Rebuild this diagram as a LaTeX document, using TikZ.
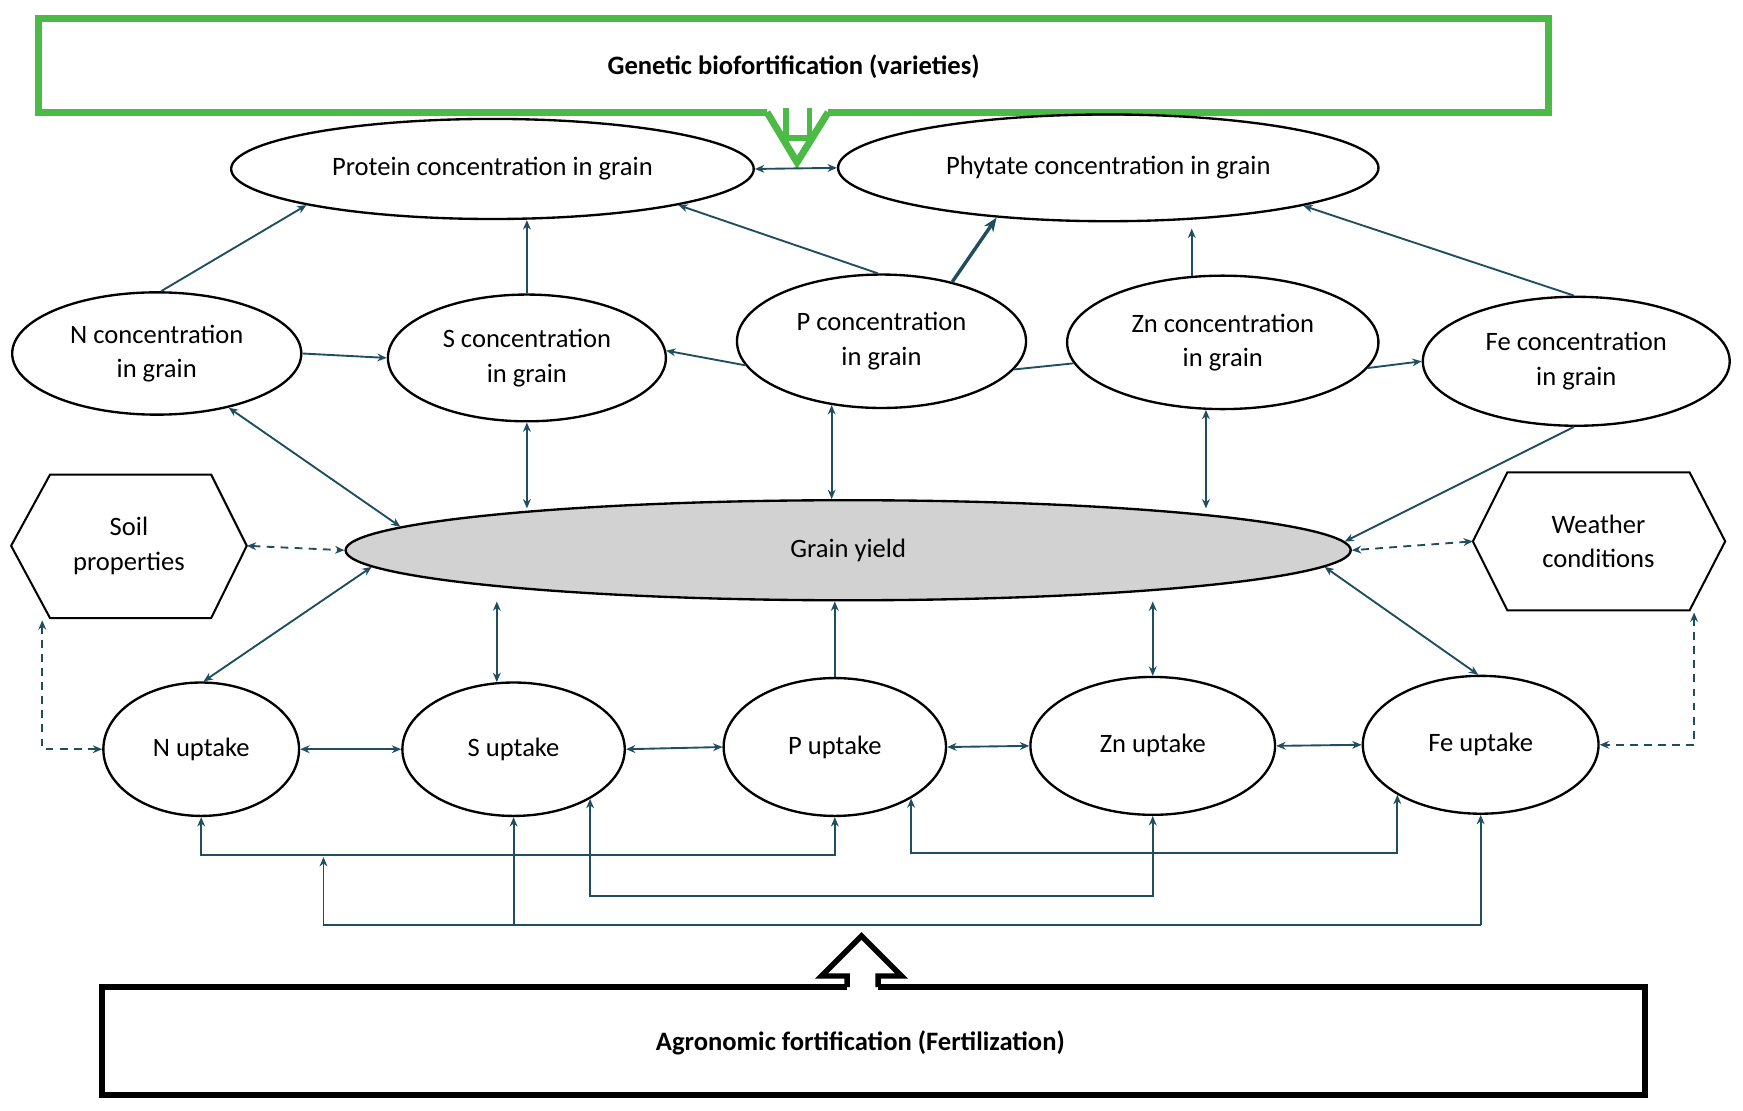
\documentclass[tikz,border=0pt]{standalone}
\usepackage{fontspec}
\setmainfont{Carlito}
\usetikzlibrary{shapes.geometric,arrows.meta}
\definecolor{cn}{RGB}{31,78,96}
\definecolor{gr}{RGB}{76,187,70}
\begin{document}
\begin{tikzpicture}[x=0.025cm,y=-0.025cm,
  el/.style={ellipse,draw=black,line width=1.5pt,inner sep=0pt,align=center,font=\fontsize{17}{22}\selectfont},
  hextext/.style={inner sep=0pt,align=center,font=\fontsize{17}{22}\selectfont},
  hexline/.style={draw=black,line width=1.3pt,line join=miter},
  con/.style={draw=cn,line width=1.2pt},
  tip/.style={-{Stealth[length=6pt,width=5pt]}},
  btip/.style={{Stealth[length=6pt,width=5pt]}-{Stealth[length=6pt,width=5pt]}},
  dsh/.style={con,dashed,dash pattern=on 5pt off 4pt}]
\useasboundingbox (0,0) rectangle (1568,999);
% top green box
\draw[gr,line width=4.5pt] (690,101) -- (35,101) -- (35,17) -- (1393,17) -- (1393,101) -- (745,101);
\draw[gr,line width=4.5pt,line join=miter] (690,101) -- (717,146) -- (745,101);
\draw[gr,line width=3.5pt] (707,97) -- (707,124) -- (728,124) -- (728,97);
\node[font=\bfseries\fontsize{17}{20}\selectfont] (gen) at (714,60) {Genetic biofortification (varieties)};
% bottom black box
\draw[line width=4pt] (92,888) rectangle (1480,985);
\node[font=\bfseries\fontsize{17}{20}\selectfont] (agr) at (774,938) {Agronomic fortification (Fertilization)};
\fill[white] (762,880) rectangle (790,892);
\draw[line width=3.5pt,line join=miter] (762,888) -- (762,878) -- (739,878) -- (775,842) -- (811,878) -- (790,878) -- (790,888);
% nodes
\node[el,minimum width=11.75cm,minimum height=2.25cm] (Prot) at (443,152) {Protein concentration in grain};
\node[el,minimum width=12.15cm,minimum height=2.4cm] (Phyt) at (997,151) {Phytate concentration in grain};
\node[el,minimum width=6.5cm,minimum height=2.75cm] (Ncon) at (141,318) {N concentration\\in grain};
\node[el,minimum width=6.25cm,minimum height=2.85cm] (Scon) at (474,322) {S concentration\\in grain};
\node[el,minimum width=6.5cm,minimum height=3cm] (Pcon) at (793,307) {P concentration\\in grain};
\node[el,minimum width=7cm,minimum height=3cm] (Zncon) at (1100,308) {Zn concentration\\in grain};
\node[el,minimum width=6.9cm,minimum height=2.9cm] (Fecon) at (1418,325) {Fe concentration\\in grain};
\node[el,fill=gray!35,minimum width=22.6cm,minimum height=2.25cm] (GY) at (763,495) {Grain yield};
\node[el,minimum width=4.4cm,minimum height=3cm] (Nup) at (181,674) {N uptake};
\node[el,minimum width=5cm,minimum height=3cm] (Sup) at (462,674) {S uptake};
\node[el,minimum width=5cm,minimum height=3.1cm] (Pup) at (751,672) {P uptake};
\node[el,minimum width=5.5cm,minimum height=3.1cm] (Znup) at (1037,671) {Zn uptake};
\node[el,minimum width=5.3cm,minimum height=3.1cm] (Feup) at (1332,670) {Fe uptake};
% hexagons
\draw[hexline] (10,491) -- (45,427) -- (190,427) -- (222,491) -- (190,556) -- (45,556) -- cycle;
\node[hextext] (Soil) at (116,491) {Soil\\properties};
\coordinate (soilE) at (222,491);
\draw[hexline] (1325,487) -- (1356,425) -- (1520,425) -- (1552,487) -- (1520,549) -- (1356,549) -- cycle;
\node[hextext] (Wea) at (1438,487) {Weather\\conditions};
\coordinate (weaW) at (1325,487);
\coordinate (soilB) at (38,558);
\coordinate (weaB) at (1524,551);
% top connectors
\draw[con,btip] (Prot.east) -- (Phyt.west);
\draw[con,tip] (Ncon.86) -- (Prot.191);
\draw[con,tip] (Scon.north) -- (Scon.north |- Prot.south);
\draw[con,tip] (Pcon.93) -- (Prot.-11);
\draw[draw=cn,line width=2.2pt,-{Stealth[length=9pt,width=7pt]}] (Pcon.40) -- (Phyt.204);
\draw[con,tip,shorten >=4pt] (Zncon.115) -- (Zncon.115 |- Phyt.south);
\draw[con,tip] (Fecon.92) -- (Phyt.-11);
\draw[con,tip] (Ncon.east) -- (Scon.west);
\draw[con,tip] (Pcon.190) -- (Scon.3);
\draw[con] (Pcon.-12) -- (Zncon.188);
\draw[con,tip] (Zncon.-10) -- (Fecon.west);
% to grain yield
\draw[con,btip] (Ncon.-37) -- (GY.177.8);
\draw[con,btip,shorten >=-6pt] (Scon.south) -- (Scon.south |- GY.north);
\draw[con,btip] (Pcon.232) -- (Pcon.232 |- GY.north);
\draw[con,btip,shorten >=-6pt] (Zncon.256) -- (Zncon.256 |- GY.north);
\draw[con,tip] (Fecon.268) -- (GY.1.7);
\draw[dsh,btip] (soilE) -- (GY.west);
\draw[dsh,btip] (weaW) -- (GY.east);
\draw[con,btip] (GY.182) -- (Nup.88);
\draw[con,btip] (Sup.104) -- (Sup.104 |- GY.south);
\draw[con,tip] (Pup.north) -- (Pup.north |- GY.south);
\draw[con,btip] (Znup.north) -- (Znup.north |- GY.south);
\draw[con,btip] (GY.-2.2) -- (Feup.92);
\draw[dsh,btip] (soilB) |- (Nup.west);
\draw[dsh,btip] (weaB) |- (Feup.east);
% uptake row
\draw[con,btip] (Nup.east) -- (Sup.west);
\draw[con,btip] (Sup.east) -- (Pup.west);
\draw[con,btip] (Pup.east) -- (Znup.west);
\draw[con,btip] (Znup.east) -- (Feup.west);
% buses
\draw[con,btip] (Nup.south) -- (Nup.south |- 0,769) -- (Pup.south |- 0,769) -- (Pup.south);
\draw[con,btip] (Pup.-34) -- (Pup.-34 |- 0,767) -- (Feup.211 |- 0,767) -- (Feup.211);
\draw[con,btip] (Sup.-33) -- (Sup.-33 |- 0,806) -- (Znup.south |- 0,806) -- (Znup.south);
\coordinate (busL) at (291,832);
\coordinate (busM) at (291,771);
\draw[con] (busL) -- (Feup.south |- busL);
\draw[con,tip] (busL) -- (busM);
\draw[con,tip] (Sup.south |- busL) -- (Sup.south);
\draw[con,tip] (Feup.south |- busL) -- (Feup.south);
\end{tikzpicture}
\end{document}
